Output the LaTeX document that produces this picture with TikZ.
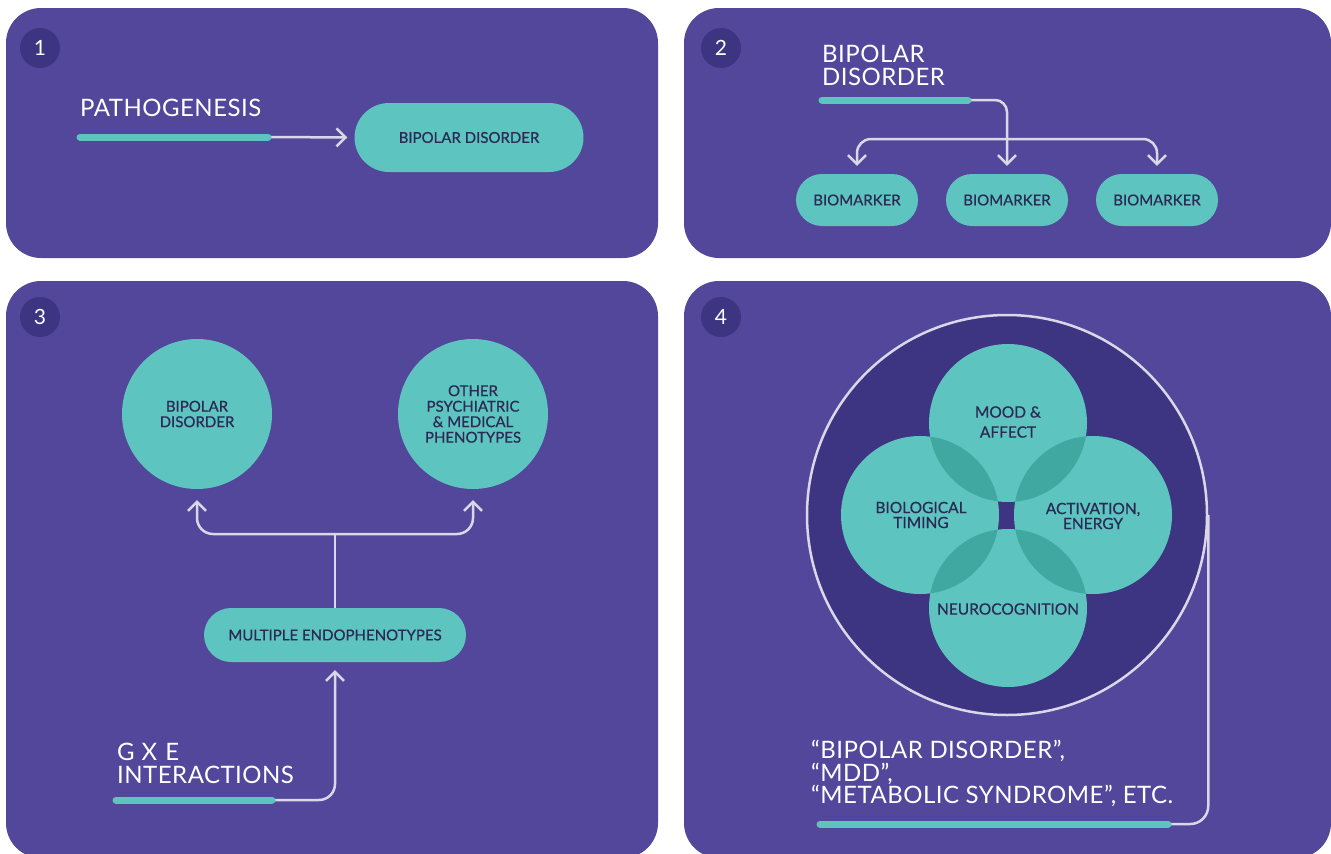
\documentclass[tikz,border=0pt]{standalone}
\usepackage{fontspec}
\setmainfont{Lato}
\newfontfamily\medf[FakeBold=0.6]{Lato}
\newfontfamily\widef[LetterSpace=2]{Lato}
\usetikzlibrary{arrows.meta,shapes.misc}
\definecolor{panelc}{HTML}{52479B}
\definecolor{darkc}{HTML}{3D3482}
\definecolor{tealc}{HTML}{5EC4C0}
\definecolor{dteal}{HTML}{40A8A0}
\definecolor{textc}{HTML}{2B2A55}
\definecolor{linec}{HTML}{DAD7E8}
\begin{document}
\begin{tikzpicture}[x=1pt,y=-1pt,
  panel/.style={fill=panelc, rounded corners=35pt},
  badge/.style={circle, fill=darkc, minimum size=40pt, inner sep=0pt, text=white, font=\fontsize{21}{21}\selectfont},
  biglabel/.style={text=white, inner sep=0pt, align=left, font=\widef\fontsize{24}{22.5}\selectfont},
  pill/.style={rounded rectangle, fill=tealc, text=textc, inner sep=0pt, font=\medf\fontsize{15}{15.5}\selectfont},
  disc/.style={circle, fill=tealc, text=textc, inner sep=0pt, minimum size=150pt, align=center, font=\medf\fontsize{15}{15.5}\selectfont},
  ctext/.style={text=textc, inner sep=0pt, align=center, font=\medf\fontsize{15.5}{15}\selectfont},
  tealbar/.style={draw=tealc, line width=7pt, line cap=round},
  conn/.style={draw=linec, line width=2.5pt},
  tip/.style={-{Straight Barb[length=9pt,width=18pt]}},
  btip/.style={{Straight Barb[length=9pt,width=18pt]}-{Straight Barb[length=9pt,width=18pt]}}
]
\useasboundingbox (0,0) rectangle (1331,854);
\fill[white] (0,0) rectangle (1331,854);
% panels
\fill[panel] (6,8) rectangle (658,258);
\fill[panel] (684,8) rectangle (1331,258);
\fill[panel] (6,281) rectangle (658,858);
\fill[panel] (684,281) rectangle (1331,858);
% badges
\node[badge] (n1) at (40,48) {1};
\node[badge] (n2) at (721,48) {2};
\node[badge] (n3) at (40,317) {3};
\node[badge] (n4) at (721,317) {4};

% ---- panel 1
\node[biglabel, anchor=base west] (path) at (80,116) {PATHOGENESIS};
\coordinate (p1s) at (80,137);
\coordinate (p1e) at (268,137);
\node[pill, minimum width=229pt, minimum height=69pt] (bd1) at (469,137.5) {BIPOLAR DISORDER};
\draw[conn, tip, shorten >=7pt] (p1e) -- (bd1.west);
\draw[tealbar] (p1s) -- (p1e);

% ---- panel 2
\node[biglabel, anchor=north west] (bdt) at (822,45) {BIPOLAR\\DISORDER};
\coordinate (p2s) at (822,100);
\coordinate (p2e) at (968,100);
\node[pill, minimum width=122pt, minimum height=52pt] (bm1) at (857,200) {BIOMARKER};
\node[pill, minimum width=122pt, minimum height=52pt] (bm2) at (1007,200) {BIOMARKER};
\node[pill, minimum width=122pt, minimum height=52pt] (bm3) at (1157,200) {BIOMARKER};
\coordinate (hmid) at (1007,139);
\draw[conn, btip, rounded corners=14pt, shorten <=8pt, shorten >=8pt] (bm1.north) |- (hmid) -| (bm3.north);
\draw[conn, tip, rounded corners=12pt, shorten >=8pt] (p2e) -| (bm2.north);
\draw[tealbar] (p2s) -- (p2e);

% ---- panel 3
\node[disc] (bd3) at (197,414) {BIPOLAR\\DISORDER};
\node[disc] (oth) at (473,414) {OTHER\\PSYCHIATRIC\\\&\ MEDICAL\\PHENOTYPES};
\node[pill, minimum width=262pt, minimum height=54pt] (me) at (335,635) {MULTIPLE ENDOPHENOTYPES};
\coordinate (jn) at (335,534);
\draw[conn] (me.north) -- (jn);
\draw[conn, btip, rounded corners=16pt, shorten <=11pt, shorten >=11pt] (bd3.south) |- (jn) -| (oth.south);
\node[biglabel, anchor=north west] (gxe) at (117,743) {G\hspace{7pt}X\hspace{8pt}E\\INTERACTIONS};
\coordinate (p3s) at (116,800);
\coordinate (p3e) at (272,800);
\draw[conn, tip, rounded corners=16pt, shorten >=8pt] (p3e) -| (me.south);
\draw[tealbar] (p3s) -- (p3e);

% ---- panel 4
\node[circle, fill=darkc, draw=linec, line width=2.5pt, minimum size=400pt, inner sep=0pt] (bigc) at (1007,515) {};
\coordinate (cT) at (1008,423);
\coordinate (cL) at (920,515);
\coordinate (cR) at (1093,515);
\coordinate (cB) at (1008,608);
\foreach \c in {cT,cL,cR,cB} \fill[tealc] (\c) circle (79pt);
\begin{scope}\clip (cT) circle (79pt); \fill[dteal] (cL) circle (79pt); \fill[dteal] (cR) circle (79pt);\end{scope}
\begin{scope}\clip (cB) circle (79pt); \fill[dteal] (cL) circle (79pt); \fill[dteal] (cR) circle (79pt);\end{scope}
\node[ctext] (mood) at (1008,422) {MOOD \&\\[5pt]AFFECT};
\node[ctext] (bio) at (921,515) {BIOLOGICAL\\TIMING};
\node[ctext] (act) at (1093,516) {ACTIVATION,\\ENERGY};
\node[ctext] (neu) at (1008,609) {NEUROCOGNITION};
\node[biglabel, anchor=north west] (names) at (811,740) {“BIPOLAR DISORDER”,\\“MDD”,\\“METABOLIC SYNDROME”, ETC.};
\coordinate (p4s) at (820,824);
\coordinate (p4e) at (1168,824);
\draw[conn, rounded corners=18pt] (bigc.east) |- (p4e);
\draw[tealbar] (p4s) -- (p4e);
\end{tikzpicture}
\end{document}
